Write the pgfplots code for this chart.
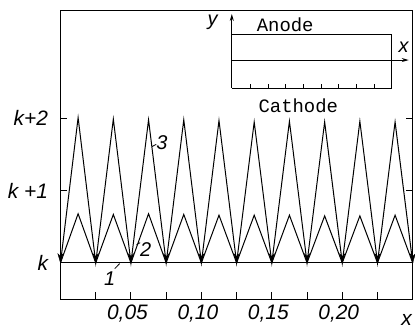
\documentclass[border=0pt]{standalone}
\usepackage{pgfplots}
\pgfplotsset{compat=1.18}
\usetikzlibrary{arrows.meta}
\usepackage{fontspec}
\setmainfont{Liberation Sans}
\newfontfamily\monofont{Liberation Mono}
\newcommand{\lab}{\fontsize{21}{23}\selectfont\itshape}
\newcommand{\clab}{\fontsize{20}{22}\selectfont\itshape}
\pgfdeclareplotmark{darrow}{%
  \pgfpathmoveto{\pgfpoint{0pt}{0pt}}%
  \pgfpathlineto{\pgfpoint{-2.6bp}{9bp}}%
  \pgfpathlineto{\pgfpoint{0pt}{6.5bp}}%
  \pgfpathlineto{\pgfpoint{2.6bp}{9bp}}%
  \pgfpathclose\pgfusepathqfillstroke}
\pgfplotstableread{
x y
0.0000 0
0.0125 2.01
0.0250 0
0.0375 1.99
0.0500 0
0.0625 1.98
0.0750 0
0.0875 1.98
0.1000 0
0.1125 1.97
0.1250 0
0.1375 1.95
0.1500 0
0.1625 1.96
0.1750 0
0.1875 1.95
0.2000 0
0.2125 1.96
0.2250 0
0.2375 1.95
0.2500 0
}\curvethree
\pgfplotstableread{
x y
0.0000 0
0.0125 0.68
0.0250 0
0.0375 0.67
0.0500 0
0.0625 0.68
0.0750 0
0.0875 0.67
0.1000 0
0.1125 0.66
0.1250 0
0.1375 0.66
0.1500 0
0.1625 0.66
0.1750 0
0.1875 0.65
0.2000 0
0.2125 0.65
0.2250 0
0.2375 0.66
0.2500 0
}\curvetwo
\begin{document}
\begin{tikzpicture}
\begin{axis}[name=ax, scale only axis, width=352.2bp, height=288.3bp,
  xmin=0, xmax=0.25, ymin=-0.5, ymax=3.49,
  axis line style={line width=1bp},
  every tick/.style={line width=0.9bp, black},
  tick align=inside, major tick length=7bp,
  xtick={0.025,0.05,0.075,0.1,0.125,0.15,0.175,0.2,0.225},
  xticklabels={,{0,05},,{0,10},,{0,15},,{0,20},},
  xtick pos=lower,
  ytick={0,1,2},
  yticklabels={{k},{k +1},{k+2}},
  ytick pos=both,
  yticklabel pos=left,
  ticklabel style={font=\lab},
  xticklabel style={xshift=-3.5bp},
  xticklabel shift=2bp,
  yticklabel shift=9bp,
  clip=false]
\addplot[line width=1bp] table[x=x,y=y] {\curvethree};
\addplot[line width=1bp] table[x=x,y=y] {\curvetwo};
\addplot[line width=1bp] coordinates {(0,0) (0.25,0)};
\addplot[only marks, mark=darrow, mark options={fill=black, line width=0.4bp}] coordinates {
(0.0,0) (0.025,0) (0.05,0) (0.075,0) (0.1,0) (0.125,0) (0.15,0) (0.175,0) (0.2,0) (0.225,0) (0.25,0)};
% inset
\addplot[line width=1bp] coordinates {(0.1216,2.42) (0.2348,2.42) (0.2348,3.163) (0.1216,3.163)};
\addplot[line width=1bp, -{Stealth[length=7bp,width=4bp]}] coordinates {(0.1216,2.42) (0.1216,3.445)};
\addplot[line width=1bp, -{Stealth[length=7bp,width=4bp]}] coordinates {(0.1216,2.807) (0.2472,2.807)};
\foreach \t in {0.1346,0.1476,0.1600,0.1726,0.1852,0.1975,0.2101,0.2225}{
  \edef\temp{\noexpand\draw[line width=0.9bp] (axis cs:\t,2.42) -- (axis cs:\t,2.47);}\temp
}
\node[font=\clab] at (axis cs:0.108,3.33) {y};
\node[font=\monofont\fontsize{19}{21}\selectfont] at (axis cs:0.1595,3.29) {Anode};
\node[font=\clab] at (axis cs:0.2436,2.99) {x};
\node[font=\monofont\fontsize{19}{21}\selectfont] at (axis cs:0.1688,2.17) {Cathode};
% curve labels
\node[font=\clab] at (axis cs:0.0719,1.665) {3};
\draw[line width=0.8bp] (axis cs:0.0650,1.61) -- (axis cs:0.0680,1.64);
\node[font=\clab] at (axis cs:0.0605,0.19) {2};
\draw[line width=0.8bp] (axis cs:0.0540,0.25) -- (axis cs:0.0565,0.28);
\node[font=\clab] at (axis cs:0.0349,-0.22) {1};
\draw[line width=0.8bp] (axis cs:0.0385,-0.08) -- (axis cs:0.0420,-0.01);
\node[font=\lab] at (axis cs:0.2457,-0.79) {x};
\end{axis}
\pgfresetboundingbox
\path ([shift={(-60.5bp,-31bp)}]ax.south west) rectangle ([shift={(2.3bp,10.7bp)}]ax.north east);
\end{tikzpicture}
\end{document}
